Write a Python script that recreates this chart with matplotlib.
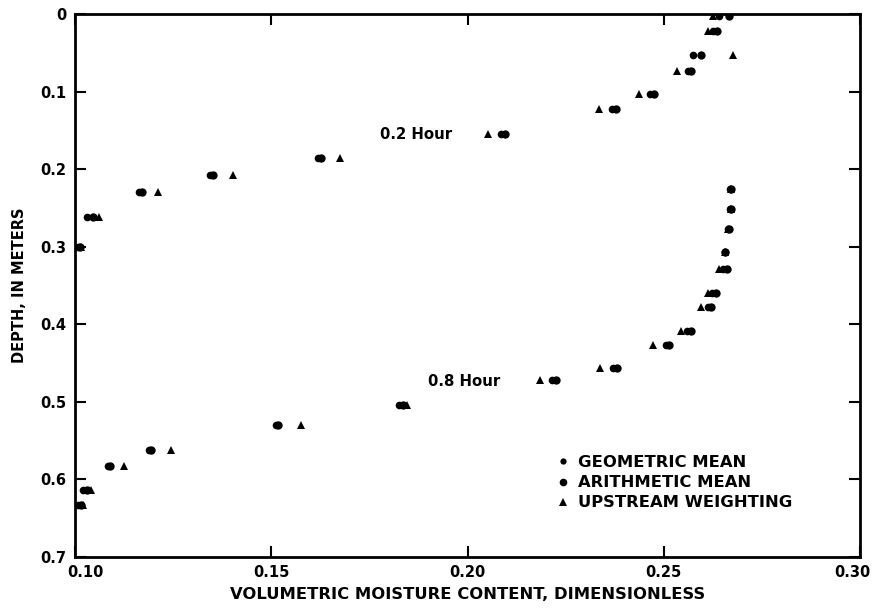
import matplotlib.pyplot as plt
from matplotlib.transforms import ScaledTranslation

# 0.2 hour profile (depth in m, moisture content)
depth_02 = [0.003, 0.022, 0.053, 0.074, 0.103, 0.123, 0.155, 0.186, 0.207, 0.229, 0.262, 0.300]
geo_02 = [0.2640, 0.2625, 0.2575, 0.2562, 0.2465, 0.2368, 0.2085, 0.1620, 0.1345, 0.1163, 0.1030, 0.1008]
arith_02 = [0.2665, 0.2635, 0.2595, 0.2570, 0.2475, 0.2378, 0.2095, 0.1628, 0.1352, 0.1170, 0.1045, 0.1012]
upstream_02 = [0.2625, 0.2612, 0.2676, 0.2534, 0.2437, 0.2335, 0.2053, 0.1675, 0.1403, 0.1211, 0.1062, 0.1016]

# 0.8 hour profile
depth_08 = [0.225, 0.251, 0.277, 0.307, 0.329, 0.360, 0.378, 0.409, 0.427, 0.457,
            0.472, 0.504, 0.530, 0.562, 0.583, 0.613, 0.633]
geo_08 = [0.2670, 0.2670, 0.2663, 0.2655, 0.2650, 0.2622, 0.2612, 0.2560, 0.2505, 0.2370,
          0.2215, 0.1825, 0.1512, 0.1188, 0.1083, 0.1020, 0.1008]
arith_08 = [0.2672, 0.2672, 0.2665, 0.2657, 0.2660, 0.2632, 0.2620, 0.2570, 0.2513, 0.2380,
            0.2225, 0.1835, 0.1518, 0.1194, 0.1090, 0.1030, 0.1015]
upstream_08 = [0.2671, 0.2671, 0.2664, 0.2656, 0.2640, 0.2612, 0.2595, 0.2543, 0.2473, 0.2338,
               0.2185, 0.1845, 0.1576, 0.1245, 0.1125, 0.1040, 0.1020]

x_ticks = [0.10, 0.15, 0.20, 0.25, 0.30]
x_labels = ["0.10", "0.15", "0.20", "0.25", "0.30"]
y_ticks = [0, 0.1, 0.2, 0.3, 0.4, 0.5, 0.6, 0.7]
y_labels = ["0", "0.1", "0.2", "0.3", "0.4", "0.5", "0.6", "0.7"]

plt.rcParams["font.family"] = "DejaVu Sans"
plt.rcParams["font.weight"] = "bold"

fig = plt.figure(figsize=(8.74, 6.09), dpi=100)
ax = fig.add_axes([0.0858, 0.0854, 0.8982, 0.8916])

for depth, geo, arith, up in [(depth_02, geo_02, arith_02, upstream_02),
                              (depth_08, geo_08, arith_08, upstream_08)]:
    ax.plot(geo, depth, "o", color="black", ms=5.5, mew=0)
    ax.plot(arith, depth, "o", color="black", ms=6, mew=0)
    ax.plot(up, depth, "^", color="black", ms=6, mew=0)

# legend handles
h1, = ax.plot([], [], "o", color="black", ms=4.5, mew=0, label="GEOMETRIC MEAN")
h2, = ax.plot([], [], "o", color="black", ms=5.5, mew=0, label="ARITHMETIC MEAN")
h3, = ax.plot([], [], "^", color="black", ms=5.5, mew=0, label="UPSTREAM WEIGHTING")
ax.legend(handles=[h1, h2, h3], loc="upper left", bbox_to_anchor=(0.595, 0.215),
          frameon=False, handlelength=0.7, handletextpad=0.6, labelspacing=0.32,
          prop={"weight": "bold", "size": 11.8})

ax.text(0.1777, 0.1547, "0.2 Hour", fontsize=10.7, fontweight="bold", va="center", ha="left")
ax.text(0.1900, 0.4740, "0.8 Hour", fontsize=10.7, fontweight="bold", va="center", ha="left")

ax.set_xlim(0.10, 0.30)
ax.set_ylim(0.7, 0)
ax.set_xticks(x_ticks)
ax.set_xticklabels(x_labels)
ax.set_yticks(y_ticks)
ax.set_yticklabels(y_labels)
ax.tick_params(direction="in", length=8, width=1.5, top=True, right=True,
               labelsize=10.5, pad=6)
for s in ax.spines.values():
    s.set_linewidth(2)

# end labels sit a little inside, as in the original
xl = ax.get_xticklabels()
xl[0].set_transform(xl[0].get_transform() + ScaledTranslation(0.10, 0, fig.dpi_scale_trans))
xl[-1].set_transform(xl[-1].get_transform() + ScaledTranslation(-0.08, 0, fig.dpi_scale_trans))

ax.set_xlabel("VOLUMETRIC MOISTURE CONTENT, DIMENSIONLESS", fontsize=11.8,
              fontweight="bold", labelpad=5)
ax.set_ylabel("DEPTH, IN METERS", fontsize=10.5, fontweight="bold", labelpad=10)

fig.savefig("out.png", dpi=100)
